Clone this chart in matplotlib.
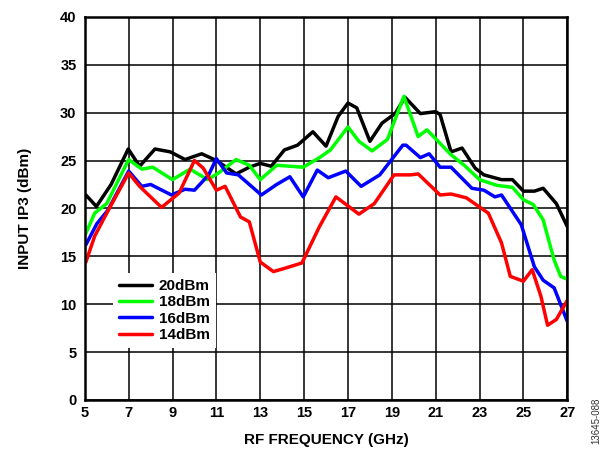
import matplotlib
matplotlib.use("Agg")
import matplotlib.pyplot as plt

plt.rcParams['font.family'] = ['Liberation Sans', 'DejaVu Sans']

# input IP3 (dBm) vs RF frequency (GHz)
f20 = [5.05, 5.53, 6.2, 6.98, 7.5, 8.2, 8.9, 9.57, 10.33, 11.0, 11.9, 12.5, 13.0, 13.5, 14.1, 14.7,
       15.4, 16.0, 16.55, 17.0, 17.4, 18.0, 18.55, 19.15, 19.6, 20.3, 21.0, 21.2, 21.7, 22.2, 22.8,
       23.2, 24.0, 24.5, 25.0, 25.5, 25.9, 26.5, 27.0]
p20 = [21.4, 20.2, 22.5, 26.2, 24.4, 26.2, 25.9, 25.1, 25.7, 25.0, 23.6, 24.3, 24.7, 24.4, 26.1, 26.6,
       28.0, 26.5, 29.6, 31.0, 30.5, 27.0, 28.9, 29.9, 31.6, 29.9, 30.1, 29.8, 25.9, 26.3, 24.2,
       23.5, 23.0, 23.0, 21.8, 21.8, 22.1, 20.5, 18.1]

f18 = [5.05, 5.45, 6.0, 7.0, 7.6, 8.1, 9.0, 9.8, 10.6, 11.1, 11.9, 12.5, 13.0, 13.75, 14.96, 15.7,
       16.2, 17.0, 17.5, 18.1, 18.8, 19.55, 20.2, 20.6, 20.9, 21.7, 22.3, 23.0, 23.8, 24.5, 25.0,
       25.45, 25.9, 26.4, 26.7, 27.0]
p18 = [17.4, 19.5, 20.5, 25.1, 24.1, 24.3, 23.0, 24.1, 23.0, 23.7, 25.1, 24.5, 23.0, 24.5, 24.3, 25.3,
       26.1, 28.5, 27.0, 26.0, 27.2, 31.7, 27.5, 28.2, 27.5, 25.6, 24.5, 23.0, 22.4, 22.2, 20.9,
       20.4, 18.8, 14.6, 12.9, 12.6]

f16 = [5.05, 5.55, 6.05, 7.0, 7.6, 8.0, 8.95, 9.57, 10.0, 10.65, 11.0, 11.47, 12.0, 12.5, 13.05, 13.75,
       14.35, 14.96, 15.6, 16.1, 16.9, 17.6, 18.45, 19.5, 19.65, 20.3, 20.7, 21.2, 21.7, 22.65, 23.2,
       23.7, 24.0, 24.9, 25.5, 25.9, 26.4, 27.0]
p16 = [16.2, 18.4, 19.8, 23.9, 22.3, 22.5, 21.4, 22.0, 21.9, 23.5, 25.2, 23.7, 23.5, 22.5, 21.4, 22.5,
       23.3, 21.2, 24.0, 23.2, 23.9, 22.3, 23.5, 26.6, 26.6, 25.3, 25.7, 24.3, 24.3, 22.1, 21.9,
       21.2, 21.4, 18.3, 13.9, 12.5, 11.7, 8.2]

f14 = [5.05, 5.45, 6.0, 7.0, 7.5, 8.5, 9.3, 10.0, 10.4, 11.0, 11.4, 12.1, 12.5, 13.0, 13.6, 14.05,
       14.9, 15.7, 16.45, 17.5, 18.2, 19.1, 19.85, 20.2, 21.2, 21.7, 22.4, 23.4, 24.0, 24.4, 25.0,
       25.4, 25.8, 26.1, 26.5, 27.0]
p14 = [14.4, 17.1, 19.5, 23.7, 22.3, 20.1, 21.6, 25.0, 24.2, 21.9, 22.3, 19.1, 18.6, 14.4, 13.4, 13.7,
       14.3, 18.1, 21.2, 19.4, 20.5, 23.5, 23.5, 23.6, 21.4, 21.5, 21.1, 19.5, 16.4, 12.9, 12.4,
       13.6, 10.8, 7.8, 8.4, 10.4]

series = [
    ('20dBm', f20, p20, '#000000'),
    ('18dBm', f18, p18, '#00ff00'),
    ('16dBm', f16, p16, '#0000ff'),
    ('14dBm', f14, p14, '#ff0000'),
]

xticks = list(range(5, 28, 2))
yticks = list(range(0, 41, 5))

fig = plt.figure(figsize=(6.1, 4.55), dpi=100)
ax = fig.add_axes([0.139, 0.121, 0.791, 0.842])

for label, x, y, c in series:
    ax.plot(x, y, color=c, lw=2.5, label=label, solid_joinstyle='round',
            solid_capstyle='round', zorder=3)

ax.set_xlim(5, 27)
ax.set_ylim(0, 40)
ax.set_xticks(xticks)
ax.set_yticks(yticks)
ax.grid(True, color='black', lw=1.1)
ax.tick_params(length=0, labelsize=10.5)
ax.tick_params(axis='y', pad=6)
ax.tick_params(axis='x', pad=4)
for lab in ax.get_xticklabels() + ax.get_yticklabels():
    lab.set_fontweight('bold')
for s in ax.spines.values():
    s.set_linewidth(1.8)
    s.set_zorder(4)

ax.set_xlabel('RF FREQUENCY (GHz)', fontsize=11, fontweight='bold', labelpad=10)
ax.set_ylabel('INPUT IP3 (dBm)', fontsize=11, fontweight='bold', labelpad=20)

leg = ax.legend(loc='upper left', bbox_to_anchor=(0.058, 0.332), borderaxespad=0,
                frameon=True, fancybox=False, edgecolor='none', facecolor='white', framealpha=1,
                prop={'weight': 'bold', 'size': 11}, handlelength=2.2, handletextpad=0.4,
                labelspacing=0.16, borderpad=0.4)
leg.set_zorder(5)

fig.text(0.978, 0.075, '13645-088', rotation=90, fontsize=7, ha='center', va='center', color='#333333')

fig.savefig('out.png', dpi=100)
